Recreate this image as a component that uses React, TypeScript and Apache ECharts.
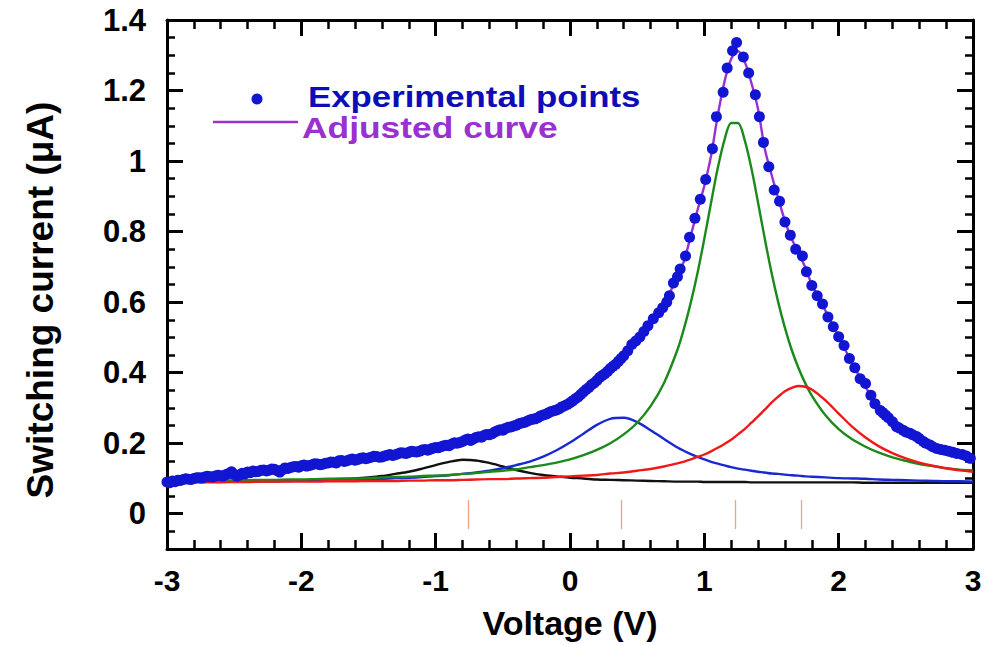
import React, { useEffect, useRef } from "react";
import * as echarts from "echarts";

// Shared voltage grid for the fitted curves (V)
const VOLT = [
  -3.0, -2.9, -2.8, -2.7, -2.6, -2.5, -2.4, -2.3, -2.2, -2.1,
  -2.0, -1.9, -1.8, -1.7, -1.6, -1.5, -1.4, -1.3, -1.2, -1.1,
  -1.0, -0.9, -0.8, -0.7, -0.6, -0.5, -0.4, -0.3, -0.2, -0.1,
  0.0, 0.1, 0.2, 0.3, 0.4, 0.5, 0.6, 0.7, 0.8,
  0.85, 0.9, 0.95, 1.0, 1.05, 1.1, 1.15, 1.2, 1.25, 1.3,
  1.35, 1.4, 1.45, 1.5, 1.55, 1.6, 1.65, 1.7, 1.75, 1.8,
  1.9, 2.0, 2.1, 2.2, 2.3, 2.4, 2.5, 2.6, 2.7, 2.8, 2.9, 3.0,
];

// Adjusted (total fitted) curve, µA
const ADJUSTED = [
  0.092, 0.096, 0.100, 0.104, 0.108, 0.112, 0.116, 0.120, 0.124, 0.128,
  0.133, 0.137, 0.141, 0.146, 0.151, 0.156, 0.161, 0.167, 0.173, 0.179,
  0.186, 0.194, 0.203, 0.214, 0.226, 0.239, 0.253, 0.267, 0.282, 0.299,
  0.318, 0.343, 0.378, 0.414, 0.452, 0.494, 0.543, 0.592, 0.676,
  0.718, 0.790, 0.862, 0.930, 1.015, 1.130, 1.225, 1.290, 1.312, 1.282,
  1.222, 1.147, 1.035, 0.962, 0.895, 0.830, 0.780, 0.740, 0.700, 0.650,
  0.577, 0.502, 0.427, 0.360, 0.298, 0.261, 0.233, 0.212, 0.192, 0.179, 0.169, 0.158,
];

// Component peaks
const PEAK_BLACK = [
  0.089, 0.089, 0.090, 0.090, 0.090, 0.091, 0.091, 0.092, 0.092, 0.093,
  0.094, 0.095, 0.096, 0.098, 0.100, 0.103, 0.107, 0.113, 0.119, 0.128,
  0.138, 0.147, 0.153, 0.151, 0.144, 0.134, 0.124, 0.116, 0.110, 0.106,
  0.102, 0.100, 0.097, 0.096, 0.095, 0.094, 0.093, 0.092, 0.091,
  0.091, 0.091, 0.091, 0.090, 0.090, 0.090, 0.090, 0.090, 0.090, 0.090,
  0.089, 0.089, 0.089, 0.089, 0.089, 0.089, 0.089, 0.089, 0.089, 0.089,
  0.089, 0.089, 0.089, 0.088, 0.088, 0.088, 0.088, 0.088, 0.088, 0.088, 0.088, 0.088,
];

const PEAK_BLUE = [
  0.091, 0.091, 0.091, 0.092, 0.092, 0.092, 0.092, 0.093, 0.093, 0.094,
  0.094, 0.095, 0.095, 0.096, 0.097, 0.098, 0.099, 0.101, 0.102, 0.104,
  0.107, 0.109, 0.113, 0.117, 0.122, 0.129, 0.138, 0.148, 0.162, 0.180,
  0.202, 0.227, 0.252, 0.269, 0.272, 0.260, 0.237, 0.212, 0.188,
  0.178, 0.169, 0.161, 0.154, 0.147, 0.142, 0.137, 0.132, 0.128, 0.125,
  0.122, 0.119, 0.117, 0.114, 0.113, 0.111, 0.109, 0.108, 0.106, 0.105,
  0.103, 0.101, 0.100, 0.099, 0.097, 0.096, 0.095, 0.094, 0.093, 0.092, 0.092, 0.091,
];

const PEAK_GREEN = [
  0.093, 0.093, 0.094, 0.094, 0.094, 0.095, 0.095, 0.096, 0.096, 0.097,
  0.097, 0.098, 0.099, 0.100, 0.100, 0.101, 0.103, 0.104, 0.105, 0.107,
  0.108, 0.110, 0.113, 0.115, 0.119, 0.122, 0.126, 0.132, 0.138, 0.145,
  0.154, 0.166, 0.181, 0.200, 0.225, 0.258, 0.305, 0.371, 0.465,
  0.527, 0.600, 0.684, 0.780, 0.882, 0.980, 1.060, 1.108, 1.108, 1.060,
  0.980, 0.882, 0.780, 0.684, 0.600, 0.527, 0.465, 0.414, 0.371, 0.335,
  0.280, 0.240, 0.211, 0.190, 0.173, 0.160, 0.150, 0.141, 0.135, 0.129, 0.125, 0.123,
];

const PEAK_RED = [
  0.090, 0.090, 0.090, 0.090, 0.090, 0.090, 0.090, 0.091, 0.091, 0.091,
  0.091, 0.091, 0.092, 0.092, 0.092, 0.093, 0.093, 0.093, 0.094, 0.094,
  0.095, 0.095, 0.096, 0.097, 0.098, 0.098, 0.100, 0.101, 0.102, 0.104,
  0.106, 0.108, 0.110, 0.114, 0.117, 0.122, 0.127, 0.134, 0.143,
  0.148, 0.154, 0.161, 0.168, 0.177, 0.187, 0.198, 0.210, 0.225, 0.240,
  0.258, 0.276, 0.295, 0.315, 0.332, 0.347, 0.357, 0.362, 0.360, 0.352,
  0.322, 0.284, 0.247, 0.216, 0.191, 0.172, 0.157, 0.145, 0.136, 0.129, 0.123, 0.119,
];

// Experimental points [V, µA]
const EXPERIMENTAL = [
  [-3.00, 0.090], [-2.98, 0.088], [-2.96, 0.093], [-2.94, 0.091], [-2.92, 0.095], [-2.90, 0.094],
  [-2.88, 0.097], [-2.86, 0.099], [-2.84, 0.098], [-2.82, 0.097], [-2.80, 0.100], [-2.78, 0.102],
  [-2.76, 0.102], [-2.74, 0.101], [-2.72, 0.104], [-2.70, 0.106], [-2.68, 0.105], [-2.66, 0.104],
  [-2.64, 0.107], [-2.62, 0.109], [-2.60, 0.108], [-2.58, 0.107], [-2.56, 0.111], [-2.54, 0.114],
  [-2.52, 0.119], [-2.50, 0.112], [-2.48, 0.106], [-2.46, 0.110], [-2.44, 0.115], [-2.42, 0.113],
  [-2.40, 0.118], [-2.38, 0.116], [-2.36, 0.121], [-2.34, 0.119], [-2.32, 0.120], [-2.30, 0.123],
  [-2.28, 0.124], [-2.26, 0.121], [-2.24, 0.123], [-2.22, 0.127], [-2.20, 0.126], [-2.18, 0.122],
  [-2.16, 0.118], [-2.14, 0.125], [-2.12, 0.130], [-2.10, 0.128], [-2.08, 0.131], [-2.06, 0.133],
  [-2.04, 0.134], [-2.02, 0.132], [-2.00, 0.136], [-1.98, 0.138], [-1.96, 0.135], [-1.94, 0.137],
  [-1.92, 0.139], [-1.90, 0.142], [-1.88, 0.141], [-1.86, 0.139], [-1.84, 0.140], [-1.82, 0.143],
  [-1.80, 0.144], [-1.78, 0.147], [-1.76, 0.146], [-1.74, 0.144], [-1.72, 0.150], [-1.70, 0.151],
  [-1.68, 0.148], [-1.66, 0.150], [-1.64, 0.153], [-1.62, 0.155], [-1.60, 0.152], [-1.58, 0.154],
  [-1.56, 0.157], [-1.54, 0.159], [-1.52, 0.156], [-1.50, 0.158], [-1.48, 0.160], [-1.46, 0.163],
  [-1.44, 0.162], [-1.42, 0.160], [-1.40, 0.161], [-1.38, 0.164], [-1.36, 0.166], [-1.34, 0.168],
  [-1.32, 0.165], [-1.30, 0.167], [-1.28, 0.170], [-1.26, 0.173], [-1.24, 0.172], [-1.22, 0.171],
  [-1.20, 0.174], [-1.18, 0.177], [-1.16, 0.176], [-1.14, 0.175], [-1.12, 0.177], [-1.10, 0.181],
  [-1.08, 0.182], [-1.06, 0.180], [-1.04, 0.183], [-1.02, 0.186], [-1.00, 0.188], [-0.98, 0.187],
  [-0.96, 0.190], [-0.94, 0.193], [-0.92, 0.194], [-0.90, 0.193], [-0.88, 0.198], [-0.86, 0.201],
  [-0.84, 0.200], [-0.82, 0.202], [-0.80, 0.205], [-0.78, 0.209], [-0.76, 0.212], [-0.74, 0.208],
  [-0.72, 0.212], [-0.70, 0.216], [-0.68, 0.218], [-0.66, 0.217], [-0.64, 0.222], [-0.62, 0.225],
  [-0.60, 0.224], [-0.58, 0.227], [-0.56, 0.232], [-0.54, 0.235], [-0.52, 0.238], [-0.50, 0.237],
  [-0.48, 0.242], [-0.46, 0.245], [-0.44, 0.246], [-0.42, 0.249], [-0.40, 0.251], [-0.38, 0.255],
  [-0.36, 0.257], [-0.34, 0.259], [-0.32, 0.262], [-0.30, 0.266], [-0.28, 0.268], [-0.26, 0.269],
  [-0.24, 0.272], [-0.22, 0.277], [-0.20, 0.280], [-0.18, 0.282], [-0.16, 0.286], [-0.14, 0.290],
  [-0.12, 0.292], [-0.10, 0.294], [-0.08, 0.298], [-0.06, 0.303], [-0.04, 0.306], [-0.02, 0.310],
  [0.00, 0.315], [0.02, 0.320], [0.04, 0.326], [0.06, 0.331], [0.08, 0.338], [0.10, 0.345],
  [0.12, 0.352], [0.14, 0.358], [0.16, 0.366], [0.18, 0.371], [0.20, 0.378], [0.22, 0.386],
  [0.24, 0.392], [0.26, 0.397], [0.28, 0.404], [0.30, 0.412], [0.32, 0.418], [0.34, 0.424],
  [0.36, 0.432], [0.38, 0.440], [0.40, 0.448], [0.43, 0.462], [0.46, 0.480], [0.49, 0.490],
  [0.52, 0.501], [0.55, 0.517], [0.58, 0.533], [0.62, 0.553], [0.66, 0.570], [0.69, 0.584],
  [0.72, 0.600], [0.74, 0.618], [0.77, 0.654], [0.80, 0.672], [0.82, 0.694],
  [0.86, 0.731], [0.89, 0.784], [0.93, 0.838], [0.97, 0.892], [1.01, 0.948],
  [1.06, 1.035], [1.09, 1.126], [1.14, 1.195], [1.17, 1.264], [1.21, 1.313],
  [1.24, 1.336], [1.29, 1.295], [1.33, 1.250], [1.38, 1.188], [1.41, 1.126],
  [1.44, 1.053], [1.48, 0.984], [1.52, 0.918], [1.56, 0.886], [1.60, 0.827],
  [1.64, 0.790], [1.68, 0.750], [1.73, 0.731], [1.76, 0.686], [1.80, 0.647],
  [1.84, 0.618], [1.88, 0.595], [1.92, 0.558], [1.96, 0.530], [2.00, 0.502],
  [2.04, 0.477], [2.08, 0.440], [2.12, 0.414], [2.16, 0.383], [2.20, 0.369],
  [2.24, 0.336], [2.27, 0.312], [2.31, 0.293], [2.33, 0.286], [2.35, 0.279],
  [2.37, 0.272], [2.40, 0.261], [2.43, 0.247], [2.45, 0.243], [2.48, 0.237],
  [2.50, 0.232], [2.53, 0.228], [2.55, 0.224], [2.58, 0.219], [2.60, 0.213],
  [2.63, 0.205], [2.65, 0.200], [2.68, 0.195], [2.70, 0.190], [2.73, 0.185],
  [2.76, 0.182], [2.79, 0.180], [2.82, 0.177], [2.85, 0.174], [2.88, 0.171],
  [2.92, 0.168], [2.95, 0.164], [2.98, 0.157],
];

// Peak position markers (V) and their vertical extent (µA)
const MARKER_V = [-0.76, 0.38, 1.23, 1.72];
const MARKER_LOW = -0.043;
const MARKER_HIGH = 0.039;

// Axis ticks
const Y_MAJOR = [0, 0.2, 0.4, 0.6, 0.8, 1, 1.2, 1.4];
const Y_MINOR = [-0.05, 0.05, 0.1, 0.15, 0.25, 0.3, 0.35, 0.45, 0.5, 0.55, 0.65, 0.7, 0.75, 0.85, 0.9, 0.95, 1.05, 1.1, 1.15, 1.25, 1.3, 1.35];

const FONT = "'Liberation Sans', Arial, sans-serif";
const C_DOTS = "#1216d2";
const C_PURPLE = "#9b30d0";
const C_GREEN = "#1b8a1b";
const C_RED = "#f01818";
const C_BLUE = "#1a28d4";
const C_BLACK = "#111111";
const C_MARK = "#f2a27c";

export default function App() {
  const ref = useRef<HTMLDivElement>(null);

  useEffect(() => {
    if (!ref.current) return;
    const chart = echarts.init(ref.current, null, { renderer: "svg" });

    const pair = (arr: number[]) => VOLT.map((v, i) => [v, arr[i]]);
    const axisLineStyle = { color: "#000", width: 3 };

    const xCommon = {
      type: "value" as const,
      min: -3,
      max: 3,
      interval: 1,
      axisLine: { show: true, onZero: false, lineStyle: axisLineStyle },
      axisTick: { show: true, inside: true, length: 16, lineStyle: { color: "#000", width: 3 } },
      minorTick: { show: true, splitNumber: 5, length: 9, lineStyle: { color: "#000", width: 2.5 } },
      splitLine: { show: false },
      minorSplitLine: { show: false },
    };

    const yBase = {
      type: "value" as const,
      min: -0.1,
      max: 1.4,
      splitLine: { show: false },
    };

    const compLine = (name: string, arr: number[], color: string) => ({
      name,
      type: "line",
      data: pair(arr),
      showSymbol: false,
      symbol: "none",
      smooth: 0.3,
      lineStyle: { color, width: 2.4 },
      itemStyle: { color },
      z: 3,
    });

    chart.setOption({
      animation: false,
      backgroundColor: "#ffffff",
      grid: { left: 167, right: 23, top: 20, bottom: 94, containLabel: false },
      xAxis: [
        {
          ...xCommon,
          position: "bottom",
          axisLabel: {
            show: true,
            fontSize: 30,
            fontWeight: "bold",
            fontFamily: FONT,
            color: "#000",
            margin: 16,
          },
          name: "Voltage (V)",
          nameLocation: "middle",
          nameGap: 57,
          nameTextStyle: { fontSize: 34, fontWeight: "bold", fontFamily: FONT, color: "#000" },
        },
        {
          ...xCommon,
          position: "top",
          axisLabel: { show: false },
        },
      ],
      yAxis: [
        {
          ...yBase,
          position: "left",
          axisLine: { show: true, onZero: false, lineStyle: axisLineStyle },
          axisTick: {
            show: true,
            inside: true,
            length: 16,
            customValues: Y_MAJOR,
            lineStyle: { color: "#000", width: 3 },
          },
          axisLabel: {
            show: true,
            customValues: Y_MAJOR,
            fontSize: 31,
            fontWeight: "bold",
            fontFamily: FONT,
            color: "#000",
            margin: 21,
          },
        },
        {
          ...yBase,
          position: "left",
          offset: 0,
          axisLine: { show: false, onZero: false },
          axisLabel: { show: false },
          axisTick: {
            show: true,
            inside: true,
            length: 8,
            customValues: Y_MINOR,
            lineStyle: { color: "#000", width: 2.5 },
          },
        },
        {
          ...yBase,
          position: "right",
          offset: 0,
          axisLine: { show: true, onZero: false, lineStyle: axisLineStyle },
          axisLabel: { show: false },
          axisTick: {
            show: true,
            inside: true,
            length: 16,
            customValues: Y_MAJOR,
            lineStyle: { color: "#000", width: 3 },
          },
        },
        {
          ...yBase,
          position: "right",
          offset: 0,
          axisLine: { show: false, onZero: false },
          axisLabel: { show: false },
          axisTick: {
            show: true,
            inside: true,
            length: 8,
            customValues: Y_MINOR,
            lineStyle: { color: "#000", width: 2.5 },
          },
        },
      ],
      series: [
        {
          name: "Peak markers",
          type: "lines",
          coordinateSystem: "cartesian2d",
          xAxisIndex: 0,
          yAxisIndex: 0,
          data: MARKER_V.map((v) => ({ coords: [[v, MARKER_LOW], [v, MARKER_HIGH]] })),
          lineStyle: { color: C_MARK, width: 1.3, opacity: 1 },
          silent: true,
          z: 2,
        },
        compLine("Peak 1", PEAK_BLACK, C_BLACK),
        compLine("Peak 2", PEAK_BLUE, C_BLUE),
        compLine("Peak 3", PEAK_GREEN, C_GREEN),
        compLine("Peak 4", PEAK_RED, C_RED),
        {
          name: "Adjusted curve",
          type: "line",
          data: pair(ADJUSTED),
          showSymbol: false,
          symbol: "none",
          smooth: 0.3,
          lineStyle: { color: C_PURPLE, width: 2.4 },
          itemStyle: { color: C_PURPLE },
          z: 4,
        },
        {
          name: "Experimental points",
          type: "scatter",
          data: EXPERIMENTAL,
          symbol: "circle",
          symbolSize: 11,
          itemStyle: { color: C_DOTS, opacity: 1 },
          z: 5,
        },
      ],
      graphic: [
        {
          type: "text",
          x: 40,
          y: 300,
          rotation: Math.PI / 2,
          style: {
            text: "Switching current (μA)",
            fill: "#000",
            font: `bold 37px ${FONT}`,
            align: "center",
            verticalAlign: "middle",
          },
          z: 10,
        },
        { type: "circle", shape: { cx: 257, cy: 99, r: 5.5 }, style: { fill: C_DOTS }, z: 10 },
        {
          type: "text",
          x: 308,
          y: 97,
          scaleX: 1.16,
          style: {
            text: "Experimental points",
            fill: "#0d0db8",
            font: `bold 30px ${FONT}`,
            verticalAlign: "middle",
            align: "left",
          },
          z: 10,
        },
        {
          type: "line",
          shape: { x1: 213, y1: 122, x2: 298, y2: 122 },
          style: { stroke: C_PURPLE, lineWidth: 2.5 },
          z: 10,
        },
        {
          type: "text",
          x: 302,
          y: 127,
          scaleX: 1.18,
          style: {
            text: "Adjusted curve",
            fill: C_PURPLE,
            font: `bold 30px ${FONT}`,
            verticalAlign: "middle",
            align: "left",
          },
          z: 10,
        },
      ],
    });

    return () => chart.dispose();
  }, []);

  return (
    <div
      ref={ref}
      style={{ position: "fixed", left: 0, top: 0, width: "996px", height: "645px", background: "#fff" }}
    />
  );
}
